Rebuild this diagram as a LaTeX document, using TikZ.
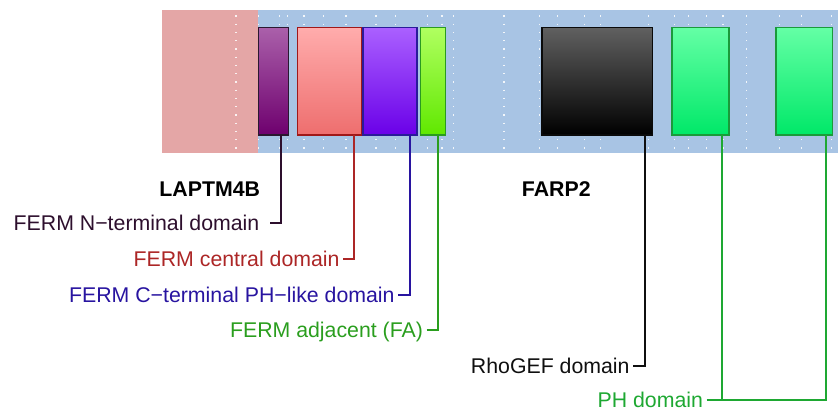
\documentclass[tikz,border=0pt]{standalone}
\usepackage{fontspec}
\setmainfont{Liberation Sans}
\begin{document}
\begin{tikzpicture}[x=1pt,y=-1pt,
  dom/.style={rectangle, inner sep=0pt, line width=1.5pt, minimum height=107.3pt, shading=axis},
  lbl/.style={inner xsep=3.5pt, inner ysep=0pt, text height=15pt, text depth=0pt, anchor=east, font=\fontsize{21.3}{25}\selectfont},
  ttl/.style={inner sep=0pt, text height=15pt, text depth=0pt, font=\fontsize{21.3}{25}\selectfont\bfseries},
  conn/.style={line width=2pt},
  dotline/.style={white, opacity=0.85, line width=1.4pt, dash pattern=on 1.4pt off 6.85pt}]
\definecolor{bgpink}{RGB}{228,166,166}
\definecolor{bgblue}{RGB}{168,196,228}
\definecolor{cN}{RGB}{45,15,45}
\definecolor{cC}{RGB}{172,38,38}
\definecolor{cP}{RGB}{40,20,160}
\definecolor{cA}{RGB}{42,158,30}
\definecolor{cR}{RGB}{15,15,15}
\definecolor{cH}{RGB}{30,168,50}
\definecolor{b1t}{RGB}{170,96,170}\definecolor{b1b}{RGB}{110,0,110}\definecolor{b1d}{RGB}{42,24,48}
\definecolor{b2t}{RGB}{255,172,172}\definecolor{b2b}{RGB}{238,110,110}\definecolor{b2d}{RGB}{160,24,24}
\definecolor{b3t}{RGB}{170,96,255}\definecolor{b3b}{RGB}{106,0,232}\definecolor{b3d}{RGB}{42,26,154}
\definecolor{b4t}{RGB}{176,255,96}\definecolor{b4b}{RGB}{96,232,0}\definecolor{b4d}{RGB}{42,154,32}
\definecolor{b5t}{RGB}{96,96,96}\definecolor{b5b}{RGB}{0,0,0}\definecolor{b5d}{RGB}{10,10,10}
\definecolor{b6t}{RGB}{100,255,165}\definecolor{b6b}{RGB}{0,232,104}\definecolor{b6d}{RGB}{26,154,58}
\useasboundingbox (0,0) rectangle (838,413);
% backgrounds
\fill[bgpink] (161.5,10) rectangle (258,153);
\fill[bgblue] (258,10) rectangle (838,153);
% dotted grid lines
\foreach \x in {236,258.3,279.3,287.7,304,323.3,346,376,395.3,427.7,442,453.3,504,539.3,557.3,584.3,600.7,648.3,674.3,688.3,706.3,723,746.7,779.3,801.3,831.7}
  \draw[dotline] (\x,15.3) -- (\x,150);
% domain boxes
\node[dom, minimum width=30pt, top color=b1t, bottom color=b1b, draw=b1d] (b1) at (273.3,81.35) {};
\node[dom, minimum width=63.6pt, top color=b2t, bottom color=b2b, draw=b2d] (b2) at (329.5,81.35) {};
\node[dom, minimum width=54pt, top color=b3t, bottom color=b3b, draw=b3d] (b3) at (390,81.35) {};
\node[dom, minimum width=25.4pt, top color=b4t, bottom color=b4b, draw=b4d] (b4) at (433,81.35) {};
\node[dom, minimum width=110.7pt, top color=b5t, bottom color=b5b, draw=b5d] (b5) at (597.35,81.35) {};
\node[dom, minimum width=57pt, top color=b6t, bottom color=b6b, draw=b6d] (b6) at (700.5,81.35) {};
\node[dom, minimum width=56.7pt, top color=b6t, bottom color=b6b, draw=b6d] (b7) at (804.35,81.35) {};
% connector end points on box bottoms
\coordinate (p1) at (281,135);
\coordinate (p2) at (354.3,135);
\coordinate (p3) at (409.5,135);
\coordinate (p4) at (438,135);
\coordinate (p5) at (645,135);
\coordinate (p6) at (721.7,135);
\coordinate (p7) at (825.7,135);
% titles
\node[ttl] (t1) at (209.7,189) {LAPTM4B};
\node[ttl] (t2) at (556.3,189) {FARP2};
% labels
\node[lbl, text=cN, inner xsep=10.5pt] (l1) at (270,223.2) {FERM N−terminal domain};
\node[lbl, text=cC] (l2) at (343.3,259) {FERM central domain};
\node[lbl, text=cP] (l3) at (398.3,294.7) {FERM C−terminal PH−like domain};
\node[lbl, text=cA] (l4) at (426.7,330.3) {FERM adjacent (FA)};
\node[lbl, text=cR] (l5) at (633.3,366) {RhoGEF domain};
\node[lbl, text=cH] (l6) at (706.7,400) {PH domain};
% connectors
\draw[conn, cN] (l1.east) -| (p1);
\draw[conn, cC] (l2.east) -| (p2);
\draw[conn, cP] (l3.east) -| (p3);
\draw[conn, cA] (l4.east) -| (p4);
\draw[conn, cR] (l5.east) -| (p5);
\draw[conn, cH] (l6.east) -| (p7);
\draw[conn, cH] (p6 |- l6.east) -- (p6);
\end{tikzpicture}
\end{document}
